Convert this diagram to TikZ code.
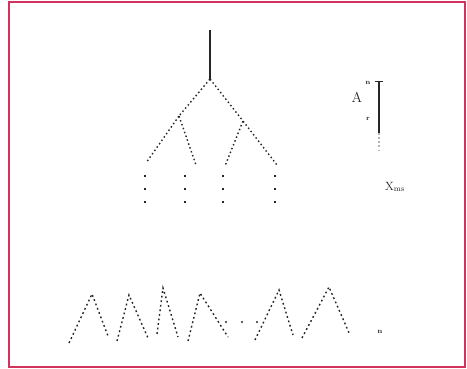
\documentclass[tikz,border=0pt]{standalone}
\usetikzlibrary{positioning}
\definecolor{frameRed}{HTML}{D2325E}
\definecolor{inkGray}{HTML}{262626}
\tikzset{
    frame/.style={draw=frameRed, line width=1.6pt},
    junction/.style={inner sep=0pt, minimum size=0pt},
    stem/.style={line width=1.4pt, draw=inkGray},
    branch/.style={line width=1.4pt, draw=inkGray, dash pattern=on 1.5pt off 2.6pt},
    leaf/.style={line width=1.5pt, draw=inkGray, dash pattern=on 2pt off 11pt},
    wave/.style={line width=1.4pt, draw=inkGray, dash pattern=on 1.8pt off 2.8pt},
    tag/.style={inner sep=0.5pt, text=inkGray}
}

\begin{document}
\begin{tikzpicture}[x=1pt,y=-1pt]
    \useasboundingbox (0,0) rectangle (467,369);
    \draw[frame] (9,2) rectangle (465,367);

    % tree
    \node[junction] (top) at (210,30) {};
    \node[junction] (root) at (210,79) {};
    \node[junction] (left) at (179,116) {};
    \node[junction] (right) at (243,121) {};
    \node[junction] (ll) at (146,163) {};
    \node[junction] (lr) at (196,165) {};
    \node[junction] (rl) at (225,166) {};
    \node[junction] (rr) at (277,165) {};

    \draw[stem] (top) -- (root);
    \draw[branch] (root) -- (left);
    \draw[branch] (root) -- (right);
    \draw[branch] (left) -- (ll);
    \draw[branch] (left) -- (lr);
    \draw[branch] (right) -- (rl);
    \draw[branch] (right) -- (rr);

    % leaf stubs
    \foreach \x/\name in {145/a,185/b,223/c,275/d} {
        \node[junction] (\name1) at (\x,175) {};
        \node[junction] (\name2) at (\x,205) {};
        \draw[leaf] (\name1) -- (\name2);
    }

    % scale bar
    \node[junction] (barTop) at (379,82) {};
    \node[junction] (barBot) at (379,133) {};
    \node[junction] (barEnd) at (379,152) {};
    \draw[stem] (barTop) -- (barBot);
    \draw[branch, draw=black!30] (barBot) -- (barEnd);
    \draw[stem, line width=1pt] ([xshift=-4pt]barTop.center) -- ([xshift=4pt]barTop.center);
    \node[tag, font=\Large] (amp) at (357,97) {A};
    \node[tag, font=\scriptsize\bfseries] (ampHi) at (368,83) {n};
    \node[tag, font=\scriptsize\bfseries] (ampLo) at (368,119) {r};
    \node[tag, font=\large] (time) at (395,187) {X$_{\mathrm{ms}}$};

    % wave train
    \foreach \a/\b/\c/\d/\e/\f in {69/343/92/294/108/336, 117/341/129/295/148/338,
        157/334/163/288/178/337, 188/341/200/293/228/337,
        255/340/279/290/293/335, 302/338/329/287/350/335} {
        \draw[wave] (\a,\b) -- (\c,\d) -- (\e,\f);
    }
    \foreach \x in {226,242,257} {
        \fill[inkGray] (\x,322) circle (1.2pt);
    }
    \node[tag, font=\scriptsize\bfseries] (waveTag) at (380,332) {n};
\end{tikzpicture}
\end{document}
